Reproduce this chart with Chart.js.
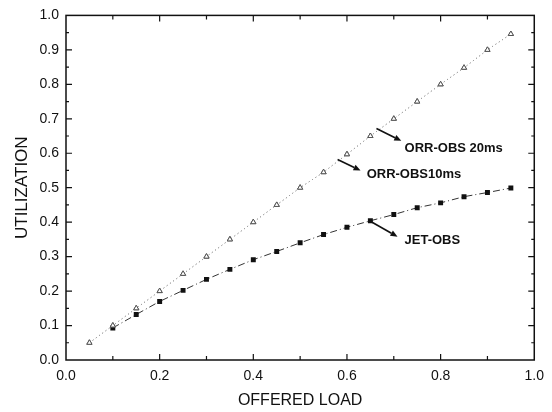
<!DOCTYPE html>
<html>
<head>
<meta charset="utf-8">
<script src="https://cdn.jsdelivr.net/npm/chart.js@4.4.1/dist/chart.umd.min.js"></script>
<style>
  html, body { margin: 0; padding: 0; background: #fff; }
  #wrap { width: 552px; height: 412px; }
</style>
</head>
<body>
<div id="wrap"><canvas id="utilChart" width="552" height="412"></canvas></div>
<script>
// offered load (x) and utilization (y)
const loadOrr = [0.05, 0.10, 0.15, 0.20, 0.25, 0.30, 0.35, 0.40, 0.45, 0.50, 0.55, 0.60, 0.65, 0.70, 0.75, 0.80, 0.85, 0.90, 0.95];
const orr20 = [0.05, 0.10, 0.15, 0.20, 0.25, 0.30, 0.35, 0.40, 0.45, 0.50, 0.545, 0.597, 0.65, 0.70, 0.75, 0.80, 0.848, 0.90, 0.946];
const orr10 = [0.05, 0.10, 0.15, 0.20, 0.25, 0.30, 0.35, 0.40, 0.45, 0.50, 0.545, 0.597, 0.65, 0.70, 0.75, 0.80, 0.848, 0.90, 0.946];
const loadJet = [0.10, 0.15, 0.20, 0.25, 0.30, 0.35, 0.40, 0.45, 0.50, 0.55, 0.60, 0.65, 0.70, 0.75, 0.80, 0.85, 0.90, 0.95];
const jet = [0.093, 0.132, 0.170, 0.202, 0.234, 0.263, 0.291, 0.315, 0.340, 0.364, 0.385, 0.404, 0.422, 0.442, 0.456, 0.474, 0.486, 0.499];

// callouts, in data units
const arrows = [
  { x1: 0.663, y1: 0.672, x2: 0.716, y2: 0.636 },
  { x1: 0.580, y1: 0.582, x2: 0.629, y2: 0.550 },
  { x1: 0.648, y1: 0.404, x2: 0.708, y2: 0.358 }
];
const labels = [
  { text: 'ORR-OBS 20ms', x: 0.723, y: 0.613 },
  { text: 'ORR-OBS10ms', x: 0.642, y: 0.539 },
  { text: 'JET-OBS', x: 0.723, y: 0.347 }
];

const pts = (xs, ys) => xs.map((x, i) => ({ x: x, y: ys[i] }));

// frame, inward ticks on all sides, arrows and labels
const decor = {
  id: 'decor',
  afterDatasetsDraw(chart) {
    const { ctx, chartArea: a, scales: { x, y } } = chart;
    ctx.save();
    ctx.strokeStyle = '#111';
    ctx.lineWidth = 1.5;
    ctx.strokeRect(a.left, a.top, a.right - a.left, a.bottom - a.top);

    ctx.lineWidth = 1.2;
    ctx.beginPath();
    for (let i = 1; i < 10; i++) {
      const v = i / 10;
      const len = i % 2 === 0 ? 6 : 4;
      const px = x.getPixelForValue(v);
      ctx.moveTo(px, a.bottom); ctx.lineTo(px, a.bottom - len);
      ctx.moveTo(px, a.top); ctx.lineTo(px, a.top + len);
    }
    for (let i = 1; i < 20; i++) {
      const v = i / 20;
      const len = i % 2 === 0 ? 6 : 3;
      const py = y.getPixelForValue(v);
      ctx.moveTo(a.left, py); ctx.lineTo(a.left + len, py);
      ctx.moveTo(a.right, py); ctx.lineTo(a.right - len, py);
    }
    ctx.stroke();

    ctx.fillStyle = '#111';
    ctx.lineWidth = 1.6;
    arrows.forEach(ar => {
      const x1 = x.getPixelForValue(ar.x1), y1 = y.getPixelForValue(ar.y1);
      const x2 = x.getPixelForValue(ar.x2), y2 = y.getPixelForValue(ar.y2);
      const ang = Math.atan2(y2 - y1, x2 - x1);
      const hl = 7, hw = 3;
      const bx = x2 - hl * Math.cos(ang), by = y2 - hl * Math.sin(ang);
      ctx.beginPath();
      ctx.moveTo(x1, y1); ctx.lineTo(bx, by);
      ctx.stroke();
      ctx.beginPath();
      ctx.moveTo(x2, y2);
      ctx.lineTo(bx + hw * Math.sin(ang), by - hw * Math.cos(ang));
      ctx.lineTo(bx - hw * Math.sin(ang), by + hw * Math.cos(ang));
      ctx.closePath();
      ctx.fill();
    });

    ctx.font = 'bold 13px "Liberation Sans", Arial, sans-serif';
    ctx.textAlign = 'left';
    ctx.textBaseline = 'middle';
    labels.forEach(l => {
      ctx.fillText(l.text, x.getPixelForValue(l.x), y.getPixelForValue(l.y));
    });
    ctx.restore();
  }
};

const font = { family: '"Liberation Sans", Arial, sans-serif', size: 14 };

new Chart(document.getElementById('utilChart'), {
  type: 'scatter',
  data: {
    datasets: [
      {
        label: 'ORR-OBS 20ms',
        data: pts(loadOrr, orr20),
        showLine: true,
        borderColor: '#999',
        borderWidth: 1,
        borderDash: [1, 3],
        pointStyle: 'triangle',
        pointRadius: 3,
        pointBorderWidth: 1,
        pointBorderColor: '#555',
        pointBackgroundColor: '#fff'
      },
      {
        label: 'ORR-OBS10ms',
        data: pts(loadOrr, orr10),
        showLine: true,
        borderColor: '#999',
        borderWidth: 1,
        borderDash: [1, 3],
        pointStyle: 'triangle',
        pointRadius: 3,
        pointBorderWidth: 1,
        pointBorderColor: '#555',
        pointBackgroundColor: '#fff'
      },
      {
        label: 'JET-OBS',
        data: pts(loadJet, jet),
        showLine: true,
        borderColor: '#333',
        borderWidth: 1,
        borderDash: [7, 3, 1, 3],
        pointStyle: 'rect',
        pointRadius: 3.5,
        pointBorderWidth: 0,
        pointBackgroundColor: '#111'
      }
    ]
  },
  options: {
    responsive: false,
    animation: false,
    layout: { padding: { left: 0, right: 17, top: 11, bottom: 0 } },
    plugins: { legend: { display: false }, tooltip: { enabled: false } },
    scales: {
      x: {
        type: 'linear',
        min: 0, max: 1,
        grid: { display: false, drawTicks: false },
        border: { display: false },
        afterFit: s => { s.height = 52; },
        ticks: {
          stepSize: 0.2, padding: 8, color: '#111', font: font, maxRotation: 0,
          callback: v => v.toFixed(1)
        },
        title: {
          display: true, text: 'OFFERED LOAD', color: '#111',
          font: { family: font.family, size: 16 },
          padding: { top: 0, bottom: 2 }
        }
      },
      y: {
        type: 'linear',
        min: 0, max: 1,
        grid: { display: false, drawTicks: false },
        border: { display: false },
        afterFit: s => { s.width = 66; },
        ticks: {
          stepSize: 0.1, padding: 7, color: '#111', font: font,
          callback: v => v.toFixed(1)
        },
        title: {
          display: true, text: 'UTILIZATION', color: '#111',
          font: { family: font.family, size: 17 },
          padding: { top: 12, bottom: 0 }
        }
      }
    }
  },
  plugins: [decor]
});
</script>
</body>
</html>
